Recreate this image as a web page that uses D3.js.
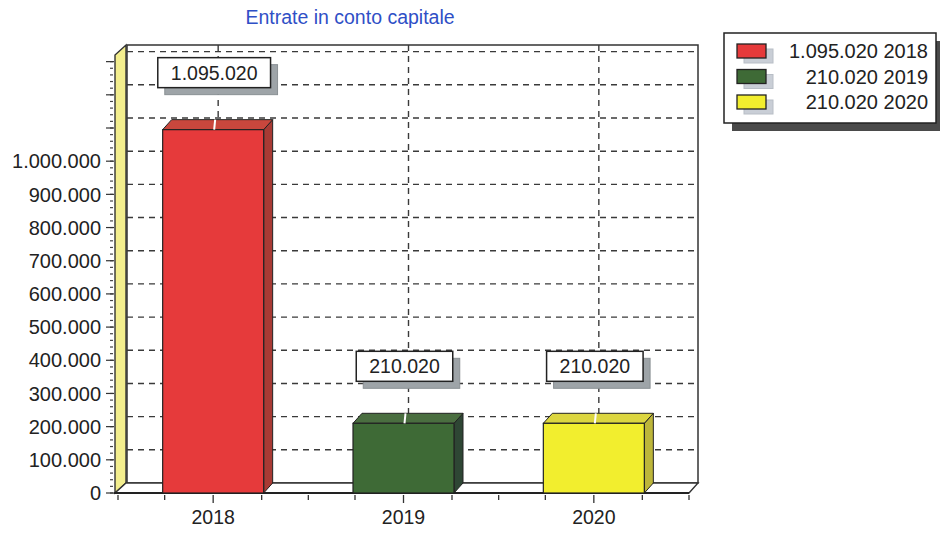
<!DOCTYPE html>
<html><head><meta charset="utf-8">
<script src="https://cdn.jsdelivr.net/npm/d3@7"></script>
<style>
html,body{margin:0;padding:0;background:#fff;}
svg{display:block;font-family:"Liberation Sans",Arial,sans-serif;}
</style></head>
<body>
<svg id="chart" width="940" height="536"></svg>
<script>
// ---- data ----
const title = "Entrate in conto capitale";
const categories = ["2018", "2019", "2020"];
const values = [1095020, 210020, 210020];
const yTickValues = [0, 100000, 200000, 300000, 400000, 500000, 600000, 700000, 800000, 900000, 1000000];
const gridValues = [100000, 200000, 300000, 400000, 500000, 600000, 700000, 800000, 900000, 1000000, 1100000, 1200000, 1300000];
const yMax = 1320000;

// ---- style ----
const frontColors = ["#e63a3b", "#3e6a36", "#f2ee2e"];
const sideColors = ["#a83a34", "#2e4634", "#bdb63a"];
const topColors = ["#c9473d", "#4a6e40", "#dcd640"];
const fmt = d3.formatLocale({decimal: ",", thousands: ".", grouping: [3], currency: ["€", ""]}).format(",d");

const svg = d3.select("#chart");
const dx = 9, dy = -10;
const x0 = 118, x1 = 689;
const y = d3.scaleLinear().domain([0, yMax]).range([493, 55]);
const x = d3.scaleBand().domain(categories).range([x0, x1]).padding(0);
const barW = 101;
const yBase = y(0), yTop = y(yMax);

// title
svg.append("text").attr("x", 350).attr("y", 24).attr("text-anchor", "middle")
  .attr("font-size", 19.5).attr("fill", "#2f4fc6").text(title);

// back wall
svg.append("rect").attr("x", x0 + dx).attr("y", yTop + dy).attr("width", x1 - x0).attr("height", yBase - yTop)
  .attr("fill", "#fff").attr("stroke", "#333").attr("stroke-width", 1.5);

// horizontal gridlines on back wall
svg.append("g").selectAll("line").data(gridValues).join("line")
  .attr("x1", x0 + dx).attr("x2", x1 + dx)
  .attr("y1", d => y(d) + dy).attr("y2", d => y(d) + dy)
  .attr("stroke", "#3a3a3a").attr("stroke-width", 1.4).attr("stroke-dasharray", "6,5");

// vertical dashed lines at category centres
svg.append("g").selectAll("line").data(categories).join("line")
  .attr("x1", d => x(d) + x.bandwidth() / 2 + 5).attr("x2", d => x(d) + x.bandwidth() / 2 + 5)
  .attr("y1", yTop + dy).attr("y2", (d, i) => y(values[i]) + dy)
  .attr("stroke", "#3a3a3a").attr("stroke-width", 1.4).attr("stroke-dasharray", "6,5");

// left wall (yellow)
svg.append("path")
  .attr("d", `M${x0 - 3},${yBase} L${x0 - 3},${yTop} L${x0 + dx - 1},${yTop + dy} L${x0 + dx - 1},${yBase + dy} Z`)
  .attr("fill", "#f3ee8e").attr("stroke", "#333").attr("stroke-width", 1.4);

// floor
svg.append("path")
  .attr("d", `M${x0 - 3},${yBase} L${x0 + dx - 1},${yBase + dy} L${x1 + dx},${yBase + dy} L${x1},${yBase} Z`)
  .attr("fill", "#fff").attr("stroke", "#333").attr("stroke-width", 1.4);
svg.append("line").attr("x1", x0 - 4).attr("x2", x1).attr("y1", yBase).attr("y2", yBase)
  .attr("stroke", "#222").attr("stroke-width", 2.2);

// y axis ticks & labels
const yAxisG = svg.append("g");
yAxisG.selectAll("line.minor").data(d3.range(0, 1300001, 20000)).join("line").attr("class", "minor")
  .attr("x1", x0 - 8).attr("x2", x0 - 5).attr("y1", d => y(d)).attr("y2", d => y(d))
  .attr("stroke", "#444").attr("stroke-width", 1.2);
yAxisG.selectAll("line.major").data([0].concat(gridValues)).join("line").attr("class", "major")
  .attr("x1", x0 - 12).attr("x2", x0 - 4).attr("y1", d => y(d)).attr("y2", d => y(d))
  .attr("stroke", "#333").attr("stroke-width", 1.2);
yAxisG.selectAll("text").data(yTickValues).join("text")
  .attr("x", x0 - 17).attr("y", d => y(d)).attr("dy", "0.36em").attr("text-anchor", "end")
  .attr("font-size", 20).attr("fill", "#222").text(d => fmt(d));

// x axis ticks & labels
const xt = [];
categories.forEach(c => {
  const cx = x(c) + x.bandwidth() / 2;
  xt.push({x: x(c), l: 5}, {x: cx - barW / 2 + 2, l: 5}, {x: cx, l: 8}, {x: cx + barW / 2 - 2, l: 5});
});
xt.push({x: x1, l: 5});
svg.append("g").selectAll("line").data(xt).join("line")
  .attr("x1", d => d.x).attr("x2", d => d.x).attr("y1", yBase + 2).attr("y2", d => yBase + 2 + d.l)
  .attr("stroke", "#333").attr("stroke-width", 1.3);
svg.append("g").selectAll("text").data(categories).join("text")
  .attr("x", d => x(d) + x.bandwidth() / 2).attr("y", 524).attr("text-anchor", "middle")
  .attr("font-size", 19.5).attr("fill", "#222").text(d => d);

// bars
const bars = svg.append("g").selectAll("g").data(categories).join("g");
bars.each(function (c, i) {
  const g = d3.select(this);
  const xl = x(c) + x.bandwidth() / 2 - barW / 2, xr = xl + barW;
  const yt = y(values[i]);
  g.append("path").attr("d", `M${xr},${yt} L${xr + dx},${yt + dy} L${xr + dx},${yBase + dy} L${xr},${yBase} Z`)
    .attr("fill", sideColors[i]).attr("stroke", "#222").attr("stroke-width", 1);
  g.append("path").attr("d", `M${xl},${yt} L${xl + dx},${yt + dy} L${xr + dx},${yt + dy} L${xr},${yt} Z`)
    .attr("fill", topColors[i]).attr("stroke", "#222").attr("stroke-width", 1);
  g.append("rect").attr("x", xl).attr("y", yt).attr("width", barW).attr("height", yBase - yt)
    .attr("fill", frontColors[i]).attr("stroke", "#222").attr("stroke-width", 1.2);
  const cx = xl + barW / 2;
  g.append("line").attr("x1", cx + 1).attr("x2", cx + 2).attr("y1", yt).attr("y2", yt - 10)
    .attr("stroke", "#fff").attr("stroke-width", 2);
});

// value label boxes
const labels = svg.append("g").selectAll("g").data(categories).join("g");
labels.each(function (c, i) {
  const g = d3.select(this);
  const cx = x(c) + x.bandwidth() / 2 + 1;
  const t = g.append("text").attr("font-size", 19.5).attr("text-anchor", "middle").attr("fill", "#222")
    .text(fmt(values[i]));
  const w = t.node().getComputedTextLength() + 26, h = 30;
  const bottom = y(values[i]) - 42;
  g.insert("rect", "text").attr("x", cx - w / 2 + 7).attr("y", bottom - h + 7).attr("width", w).attr("height", h)
    .attr("fill", "#9ea4a8").attr("stroke", "#8a9094");
  g.insert("rect", "text").attr("x", cx - w / 2).attr("y", bottom - h).attr("width", w).attr("height", h)
    .attr("fill", "#fff").attr("stroke", "#222").attr("stroke-width", 1.5);
  t.attr("x", cx).attr("y", bottom - h / 2).attr("dy", "0.36em");
});

// legend
const lg = svg.append("g");
lg.append("rect").attr("x", 732).attr("y", 41).attr("width", 212).attr("height", 90).attr("fill", "#4a4a4a");
lg.append("rect").attr("x", 724).attr("y", 33).attr("width", 212).attr("height", 90)
  .attr("fill", "#fff").attr("stroke", "#222").attr("stroke-width", 1.5);
const rows = lg.selectAll("g").data(categories).join("g")
  .attr("transform", (d, i) => `translate(0, ${51 + i * 25.5})`);
rows.append("rect").attr("x", 744).attr("y", -2).attr("width", 29).attr("height", 14)
  .attr("fill", "#c9ced6").attr("stroke", "#b8bec6");
rows.append("rect").attr("x", 737).attr("y", -7).attr("width", 29).attr("height", 14)
  .attr("fill", (d, i) => frontColors[i]).attr("stroke", "#222").attr("stroke-width", 1.3);
rows.append("text").attr("x", 928).attr("y", 0).attr("dy", "0.36em").attr("text-anchor", "end")
  .attr("font-size", 20).attr("fill", "#222")
  .text((d, i) => fmt(values[i]) + " " + d);
</script>
</body></html>
